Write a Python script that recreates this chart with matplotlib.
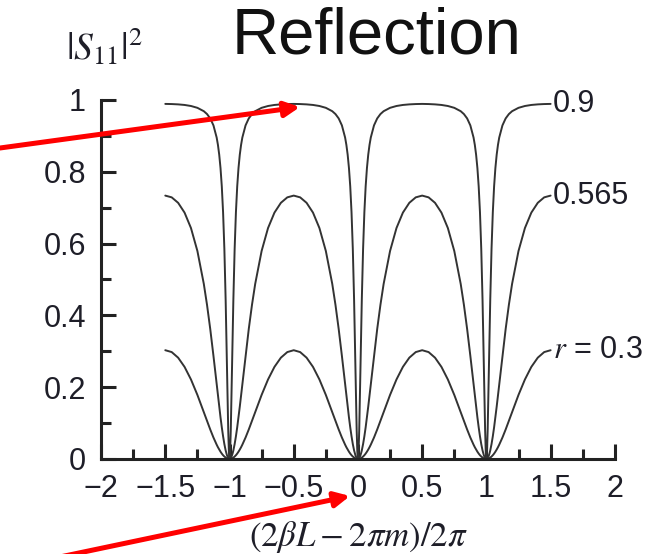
import numpy as np
import matplotlib
matplotlib.use("Agg")
import matplotlib.pyplot as plt
from matplotlib.ticker import MultipleLocator

plt.rcParams["font.family"] = ["Liberation Sans", "DejaVu Sans"]
plt.rcParams["mathtext.fontset"] = "stix"
plt.rcParams["axes.unicode_minus"] = True

# half period of each curve (x from the dip at an integer to the peak at +0.5),
# values; curves are mirror-symmetric about every integer
x_half = [0, 0.0025, 0.005, 0.01, 0.015, 0.02, 0.025, 0.03, 0.04, 0.05,
          0.06, 0.07, 0.08, 0.09, 0.1, 0.125, 0.15, 0.175, 0.2, 0.25,
          0.3, 0.35, 0.4, 0.45, 0.5]

refl_r03 = [0, 0.0000, 0.0001, 0.0004, 0.0010, 0.0017, 0.0027, 0.0038,
            0.0068, 0.0105, 0.0150, 0.0203, 0.0262, 0.0327, 0.0399, 0.0598,
            0.0822, 0.1061, 0.1306, 0.1785, 0.2215, 0.2566, 0.2822, 0.2978,
            0.3030]

refl_r0565 = [0, 0.0002, 0.0007, 0.0027, 0.0061, 0.0107, 0.0167, 0.0238,
              0.0415, 0.0632, 0.0882, 0.1159, 0.1456, 0.1766, 0.2083, 0.2874,
              0.3622, 0.4293, 0.4877, 0.5794, 0.6433, 0.6863, 0.7136, 0.7288,
              0.7337]

refl_r09 = [0, 0.0055, 0.0217, 0.0814, 0.1660, 0.2614, 0.3559, 0.4428,
            0.5851, 0.6872, 0.7592, 0.8103, 0.8474, 0.8748, 0.8955, 0.9293,
            0.9487, 0.9608, 0.9688, 0.9782, 0.9833, 0.9862, 0.9878, 0.9887,
            0.9891]

dip_centers = [-1, 0, 1]

curve_labels = ["$r$ = 0.3", "0.565", "0.9"]
xtick_values = [-2, -1.5, -1, -0.5, 0, 0.5, 1, 1.5, 2]
xtick_labels = ["\u22122", "\u22121.5", "\u22121", "\u22120.5", "0", "0.5", "1", "1.5", "2"]
ytick_values = [0, 0.2, 0.4, 0.6, 0.8, 1]
ytick_labels = ["0", "0.2", "0.4", "0.6", "0.8", "1"]


def unfold(xh, yh):
    xh = np.asarray(xh)
    yh = np.asarray(yh)
    xs, ys = [], []
    for m in dip_centers:
        xs.append(m - xh[::-1])
        ys.append(yh[::-1])
        xs.append(m + xh)
        ys.append(yh)
    return np.concatenate(xs), np.concatenate(ys)


fig = plt.figure(figsize=(6.52, 5.54), dpi=100)
ax = fig.add_axes([0.155, 0.1715, 0.788, 0.648])

line_color = "#333333"
text_color = "#1e1e28"

for yh, label in zip([refl_r03, refl_r0565, refl_r09], curve_labels):
    xs, ys = unfold(x_half, yh)
    ax.plot(xs, ys, color=line_color, lw=1.4, solid_capstyle="round")
    ax.text(
        xs[-1] + 0.02,
        ys[-1],
        label,
        ha="left",
        va="center",
        fontsize=22,
        color=text_color,
    )

ax.set_xlim(-2, 2)
ax.set_ylim(0, 1)

ax.spines["top"].set_visible(False)
ax.spines["right"].set_visible(False)
for side in ["left", "bottom"]:
    ax.spines[side].set_linewidth(2.2)
    ax.spines[side].set_color("#222222")

ax.set_xticks(xtick_values)
ax.set_xticklabels(xtick_labels)
ax.set_yticks(ytick_values)
ax.set_yticklabels(ytick_labels)
ax.xaxis.set_minor_locator(MultipleLocator(0.25))
ax.yaxis.set_minor_locator(MultipleLocator(0.1))

ax.tick_params(which="major", direction="in", length=11, width=2.2,
               color="#222222", labelsize=22, labelcolor=text_color, pad=11)
ax.tick_params(which="minor", direction="in", length=7.5, width=2.2,
               color="#222222")

fig.text(358 / 652, 1 - 537 / 554, r"$(2\beta L - 2\pi m)/2\pi$",
         ha="center", va="center", fontsize=25, color=text_color)
fig.text(377 / 652, 1 - 36 / 554, "Reflection", ha="center", va="center",
         fontsize=47, color="#111111")
fig.text(104 / 652, 1 - 47 / 554, r"$|S_{11}|^2$", ha="center", va="center",
         fontsize=27, color=text_color)

# red arrows, drawn in figure pixels
arrows = [((0, 554 - 148), (300, 554 - 107)), ((55, -4), (350, 554 - 496))]
for tail, head in arrows:
    ax.annotate(
        "",
        xy=head,
        xycoords="figure pixels",
        xytext=tail,
        textcoords="figure pixels",
        arrowprops=dict(arrowstyle="-|>,head_length=0.9,head_width=0.45",
                        color="#ff0000", lw=3.6, shrinkA=0, shrinkB=0),
        annotation_clip=False,
    )

plt.savefig("out.png", dpi=100)
plt.close()
